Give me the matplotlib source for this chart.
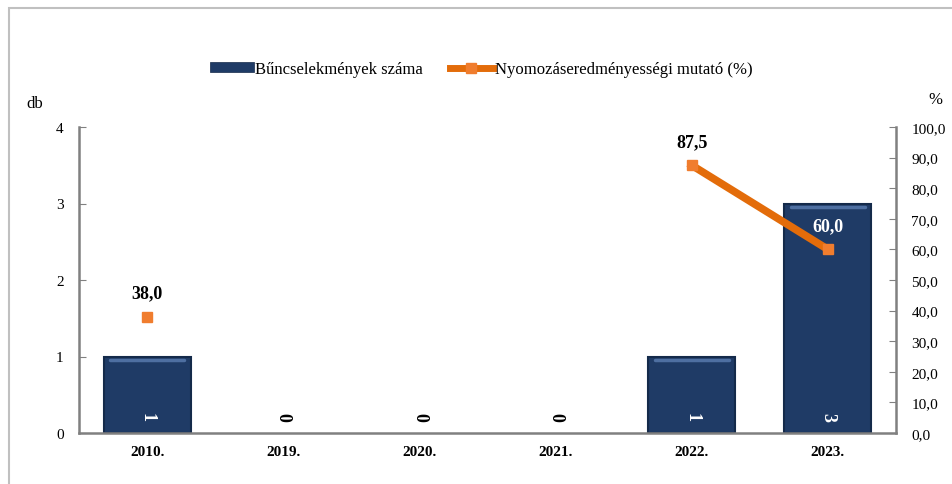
import numpy as np
import matplotlib
matplotlib.use("Agg")
import matplotlib.pyplot as plt
from matplotlib.patches import Rectangle
from matplotlib.lines import Line2D
from matplotlib.patches import Patch

plt.rcParams["font.family"] = ["Liberation Serif", "DejaVu Serif"]

years = ["2010.", "2019.", "2020.", "2021.", "2022.", "2023."]
crimes = [1, 0, 0, 0, 1, 3]
rate = [38.0, np.nan, np.nan, np.nan, 87.5, 60.0]
rate_labels = ["38,0", "", "", "", "87,5", "60,0"]

BAR = "#1f3b66"
BAR_EDGE = "#142a4a"
LINE = "#e36c0a"
MARK = "#f07d2e"
AXIS = "#808080"

fig = plt.figure(figsize=(9.53, 4.85), dpi=100)
fig.patches.append(Rectangle((9 / 953, -0.1), 1.2, 1 - 9 / 485 + 0.1,
                             transform=fig.transFigure, fill=False,
                             edgecolor="#c0c0c0", lw=1.5))

ax = fig.add_axes([79 / 953, 1 - 434 / 485, 817 / 953, 306 / 485])
ax2 = ax.twinx()

x = np.arange(len(years))
ax.bar(x, crimes, width=0.64, color=BAR, edgecolor=BAR_EDGE,
       linewidth=[1.5 if v > 0 else 0 for v in crimes], zorder=2)
# bevel highlight near the top of each bar
for xi, v in zip(x, crimes):
    if v > 0:
        ax.plot([xi - 0.27, xi + 0.27], [v - 0.05, v - 0.05],
                color="#5a7db0", lw=2.5, alpha=0.8, zorder=3, solid_capstyle="round")

for xi, v in zip(x, crimes):
    ax.annotate(str(v), (xi, 0), xytext=(0, 12), textcoords="offset points",
                ha="center", va="center", rotation=-90, fontsize=13,
                fontweight="bold", color="white" if v > 0 else "black", zorder=4)

ax.set_xlim(-0.5, len(years) - 0.5)
ax.set_ylim(0, 4)
ax.set_yticks(range(0, 5))
ax.set_xticks(x)
ax.set_xticklabels(years, fontsize=11, fontweight="bold")
ax.tick_params(axis="x", length=0, pad=9)
ax.tick_params(axis="y", direction="in", length=5, color=AXIS, labelsize=11, pad=11)

ax2.plot(x, rate, color=LINE, lw=5.5, marker="s", markersize=7.5,
         markerfacecolor=MARK, markeredgecolor=MARK, zorder=5)
for xi, v, lab in zip(x, rate, rate_labels):
    if lab:
        ax2.annotate(lab, (xi, v), xytext=(0, 17), textcoords="offset points",
                     ha="center", va="center", fontsize=13, fontweight="bold",
                     color="white" if xi == 5 else "black")
ax2.set_ylim(0, 100)
ax2.set_yticks(np.arange(0, 101, 10))
ax2.set_yticklabels([f"{v:.1f}".replace(".", ",") for v in np.arange(0, 101, 10)])
ax2.tick_params(axis="y", direction="in", length=5, color=AXIS, labelsize=11, pad=11)

for a in (ax, ax2):
    a.spines["top"].set_visible(False)
    for s in ("left", "right", "bottom"):
        a.spines[s].set_color(AXIS)
        a.spines[s].set_linewidth(1.8)
ax.spines["right"].set_visible(False)
ax2.spines["left"].set_visible(False)
ax2.spines["bottom"].set_visible(False)

fig.text(35 / 953, 1 - 104 / 485, "db", fontsize=12, ha="center", va="center")
fig.text(935 / 953, 1 - 100 / 485, "%", fontsize=12, ha="center", va="center")

handles = [Patch(facecolor=BAR, edgecolor=BAR_EDGE, lw=0.5),
           Line2D([], [], color=LINE, lw=5, marker="s", markersize=7,
                  markerfacecolor=MARK, markeredgecolor=MARK)]
fig.legend(handles, ["Bűncselekmények száma", "Nyomozáseredményességi mutató (%)"],
           loc="center", bbox_to_anchor=(0.505, 1 - 70 / 485), ncol=2, frameon=False,
           fontsize=12, handlelength=2.6, handleheight=0.5, handletextpad=0.1,
           columnspacing=1.6)

fig.savefig("out.png", dpi=100)
